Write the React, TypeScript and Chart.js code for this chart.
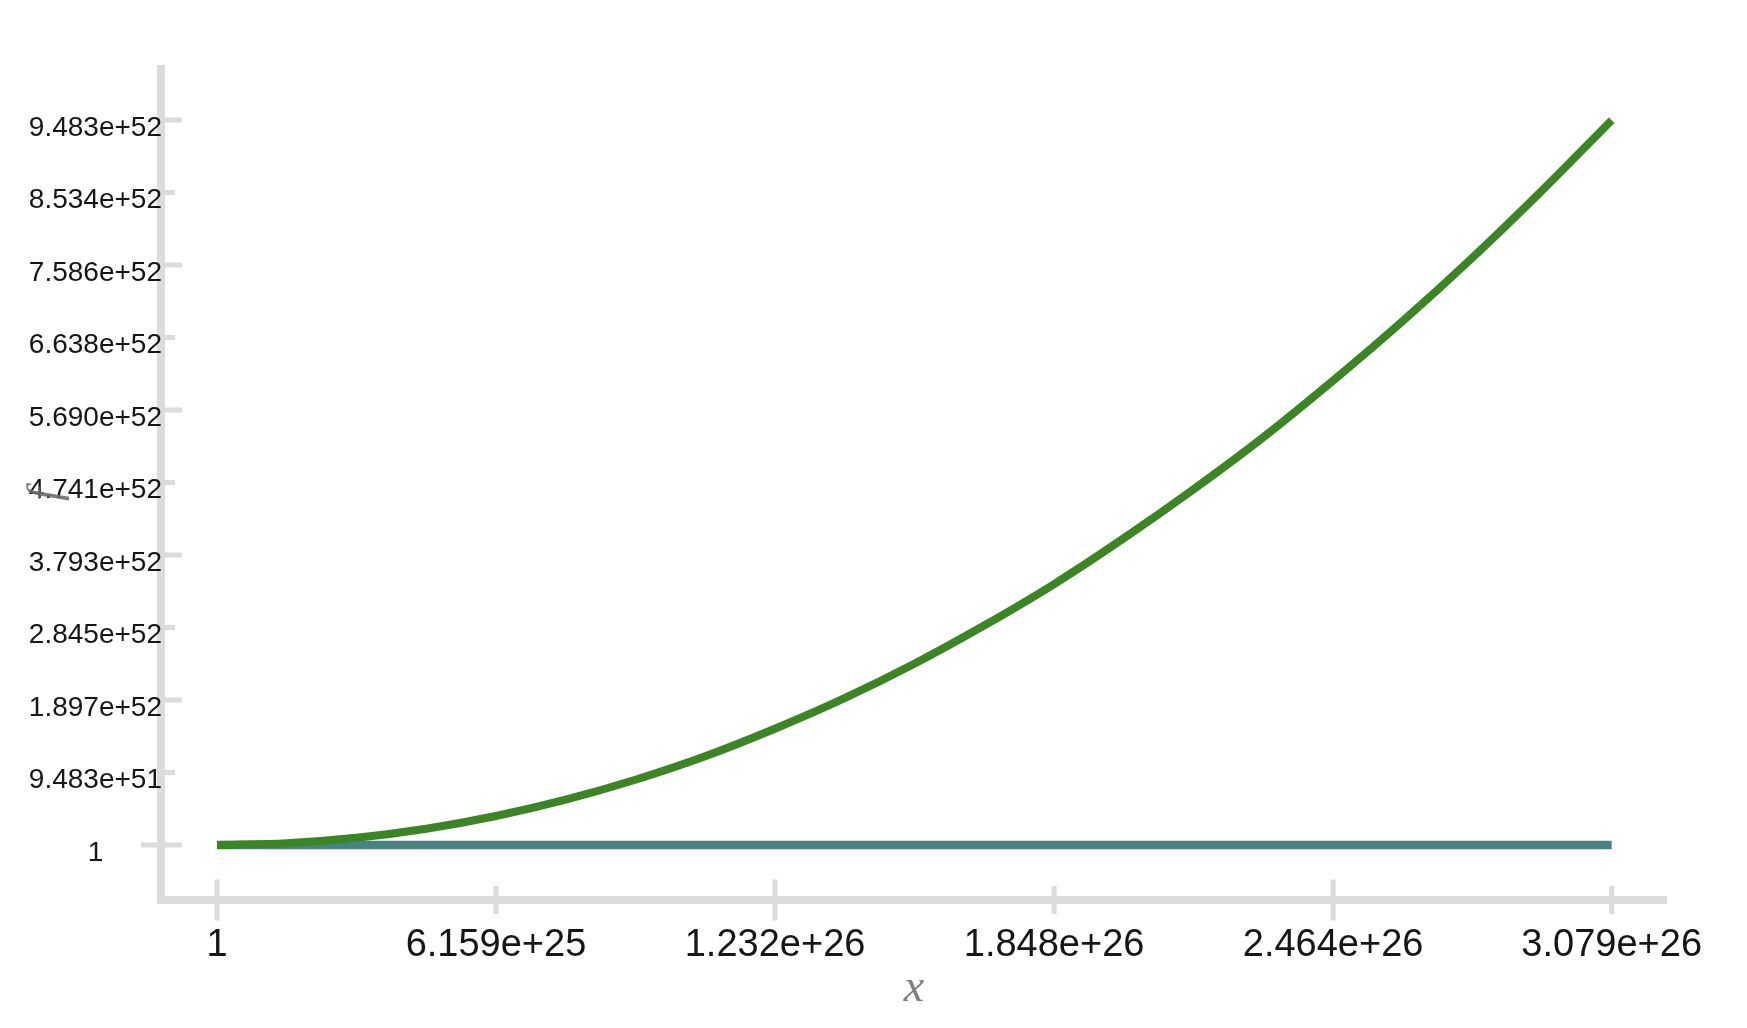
import React, { useEffect, useRef } from "react";
import { Chart, registerables } from "chart.js";

Chart.register(...registerables);

// ---- data ----
const curveX: number[] = [
  1, 1.5395e25, 3.079e25, 4.6185e25, 6.159e25, 7.6975e25, 9.237e25, 1.07765e26,
  1.2316e26, 1.38555e26, 1.5395e26, 1.69345e26, 1.8474e26, 2.00135e26, 2.1553e26,
  2.30925e26, 2.4632e26, 2.61715e26, 2.7711e26, 2.92505e26, 3.079e26,
];
const curveY: number[] = [
  1, 2.37e50, 9.48e50, 2.13e51, 3.79e51, 5.93e51, 8.53e51, 1.16e52, 1.52e52,
  1.92e52, 2.37e52, 2.87e52, 3.41e52, 4.01e52, 4.65e52, 5.33e52, 6.07e52,
  6.85e52, 7.68e52, 8.56e52, 9.48e52,
];
const flatX: number[] = [1, 3.079e26];
const flatY: number[] = [1, 1];

const xTickValues: number[] = [1, 6.159e25, 1.232e26, 1.848e26, 2.464e26, 3.079e26];
const xTickLabels: string[] = ["1", "6.159e+25", "1.232e+26", "1.848e+26", "2.464e+26", "3.079e+26"];
const yTickValues: number[] = [
  1, 9.483e51, 1.897e52, 2.845e52, 3.793e52, 4.741e52, 5.69e52, 6.638e52, 7.586e52, 8.534e52, 9.483e52,
];
const yTickLabels: string[] = [
  "1", "9.483e+51", "1.897e+52", "2.845e+52", "3.793e+52", "4.741e+52",
  "5.690e+52", "6.638e+52", "7.586e+52", "8.534e+52", "9.483e+52",
];
const xTitle = "x";
const yTitle = "f";

// ---- styles ----
const GREEN = "#3b8525";
const TEAL = "#4a8282";
const AXIS = "#dcdcdc";
const W = 1747;
const H = 1028;

const axisPlugin = {
  id: "sketchAxes",
  beforeDraw(chart: any) {
    const { ctx, chartArea } = chart;
    const xs = chart.scales.x;
    const ys = chart.scales.y;
    const L = chartArea.left;
    const B = chartArea.bottom;
    ctx.save();
    ctx.strokeStyle = AXIS;
    ctx.lineCap = "butt";
    ctx.lineWidth = 8;
    ctx.beginPath();
    ctx.moveTo(L, chartArea.top);
    ctx.lineTo(L, B + 4);
    ctx.moveTo(L - 4, B);
    ctx.lineTo(chartArea.right, B);
    ctx.stroke();
    ctx.lineWidth = 5;
    ctx.beginPath();
    ys.ticks.forEach((t: any, i: number) => {
      const py = ys.getPixelForValue(t.value);
      const x0 = i === 0 ? L - 20 : L + 4;
      const x1 = L + (i % 2 === 0 ? 21 : 14);
      ctx.moveTo(x0, py);
      ctx.lineTo(x1, py);
    });
    xs.ticks.forEach((t: any, i: number) => {
      const px = xs.getPixelForValue(t.value);
      const h = i % 2 === 0 ? 20.5 : 14;
      ctx.moveTo(px, B - h);
      ctx.lineTo(px, B + h);
    });
    ctx.stroke();
    ctx.restore();
  },
};

// draws the rotated y title so it can sit exactly where the reference has it
const yTitlePlugin = {
  id: "yTitle",
  afterDraw(chart: any) {
    const { ctx } = chart;
    const ys = chart.scales.y;
    const cy = (ys.top + ys.bottom) / 2 + 12;
    ctx.save();
    ctx.translate(47, cy);
    ctx.rotate(-Math.PI / 2);
    ctx.fillStyle = "rgba(110,110,110,0.9)";
    ctx.font = "italic 46px 'Liberation Serif', serif";
    ctx.textAlign = "center";
    ctx.textBaseline = "middle";
    ctx.fillText(yTitle, 0, 0);
    ctx.restore();
  },
};

export default function App() {
  const ref = useRef<HTMLCanvasElement | null>(null);
  useEffect(() => {
    if (!ref.current) return;
    const chart = new Chart(ref.current, {
      type: "line",
      data: {
        datasets: [
          {
            label: "x^2",
            data: curveX.map((x, i) => ({ x, y: curveY[i] })),
            borderColor: GREEN,
            backgroundColor: GREEN,
            borderWidth: 8,
            pointRadius: 0,
            cubicInterpolationMode: "monotone",
            borderCapStyle: "butt",
            fill: false,
          },
          {
            label: "1",
            data: flatX.map((x, i) => ({ x, y: flatY[i] })),
            borderColor: TEAL,
            backgroundColor: TEAL,
            borderWidth: 8.5,
            pointRadius: 0,
            borderCapStyle: "butt",
            fill: false,
          },
        ],
      },
      options: {
        animation: false,
        responsive: false,
        devicePixelRatio: 1,
        layout: { padding: { top: 65, right: 80, left: 0, bottom: 0 } },
        plugins: { legend: { display: false }, tooltip: { enabled: false } },
        scales: {
          x: {
            type: "linear",
            min: -1.2363e25,
            max: 3.2011e26,
            grid: { display: false, drawTicks: false, tickLength: 0 },
            border: { display: false },
            afterBuildTicks: (s: any) => {
              s.ticks = xTickValues.map((v) => ({ value: v }));
            },
            afterFit: (s: any) => {
              s.height = 128;
              s.paddingLeft = 0;
              s.paddingRight = 0;
            },
            ticks: {
              autoSkip: false,
              maxRotation: 0,
              minRotation: 0,
              padding: 23,
              color: "#161616",
              font: { family: "'Liberation Sans', Arial, sans-serif", size: 38 },
              callback: (_v: any, i: number) => xTickLabels[i],
            },
            title: {
              display: true,
              text: xTitle,
              color: "rgb(128,128,128)",
              font: { family: "'Liberation Serif', serif", size: 46, style: "italic" },
              padding: { top: 0, bottom: 11 },
            },
          },
          y: {
            type: "linear",
            min: -7.194e51,
            max: 1.02024e53,
            grid: { display: false, drawTicks: false, tickLength: 0 },
            border: { display: false },
            afterBuildTicks: (s: any) => {
              s.ticks = yTickValues.map((v) => ({ value: v }));
            },
            afterFit: (s: any) => {
              s.width = 161;
              s.paddingTop = 0;
              s.paddingBottom = 0;
            },
            ticks: {
              autoSkip: false,
              crossAlign: "center",
              padding: -1,
              labelOffset: 8,
              color: "#161616",
              font: { family: "'Liberation Sans', Arial, sans-serif", size: 28 },
              callback: (_v: any, i: number) => yTickLabels[i],
            },
          },
        },
      },
      plugins: [axisPlugin, yTitlePlugin],
    } as any);
    return () => chart.destroy();
  }, []);
  return (
    <canvas
      ref={ref}
      width={W}
      height={H}
      style={{ position: "fixed", left: 0, top: 0, width: W, height: H, background: "#fff" }}
    />
  );
}
